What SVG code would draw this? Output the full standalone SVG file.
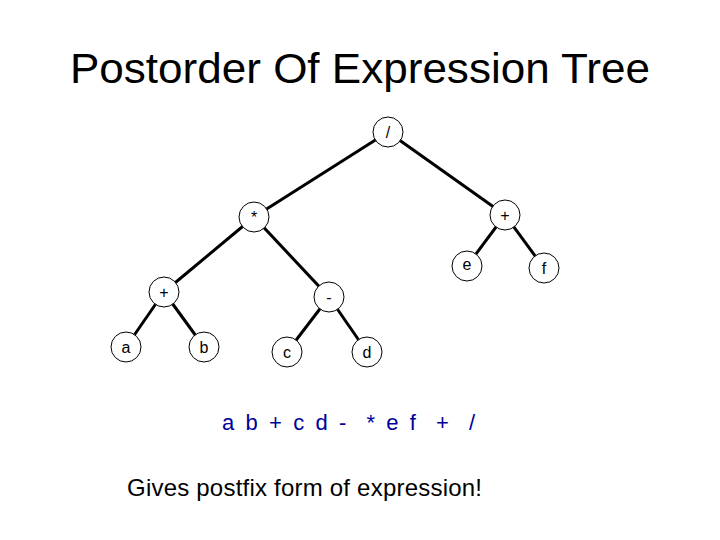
<svg xmlns="http://www.w3.org/2000/svg" width="720" height="540" viewBox="0 0 720 540">
<style>
.n circle{fill:#fff;stroke:#000;stroke-width:1}
.n text{font-family:"Liberation Sans",Arial,sans-serif;font-size:16px;text-anchor:middle;fill:#000}
#edges line{stroke:#000;stroke-width:3}
</style>
<rect width="720" height="540" fill="#fff"/>
<text x="70" y="83" font-family="Liberation Sans,Arial,sans-serif" font-size="43" textLength="580" lengthAdjust="spacingAndGlyphs">Postorder Of Expression Tree</text>
<g id="edges">
<line x1="388" y1="132" x2="254" y2="217"/>
<line x1="388" y1="132" x2="505" y2="215"/>
<line x1="254" y1="217" x2="164" y2="292"/>
<line x1="254" y1="217" x2="329" y2="297"/>
<line x1="505" y1="215" x2="467" y2="266"/>
<line x1="505" y1="215" x2="544" y2="268"/>
<line x1="164" y1="292" x2="126" y2="347"/>
<line x1="164" y1="292" x2="204" y2="347"/>
<line x1="329" y1="297" x2="287" y2="352"/>
<line x1="329" y1="297" x2="367" y2="352"/>
</g>
<g id="n-div" class="n"><circle cx="388" cy="132" r="15"/><text x="388" y="138">/</text></g>
<g id="n-mul" class="n"><circle cx="254" cy="217" r="15"/><text x="254" y="223">*</text></g>
<g id="n-plus2" class="n"><circle cx="505" cy="215" r="15"/><text x="505" y="221">+</text></g>
<g id="n-e" class="n"><circle cx="467" cy="266" r="15"/><text x="467" y="270">e</text></g>
<g id="n-f" class="n"><circle cx="544" cy="268" r="15"/><text x="544" y="274">f</text></g>
<g id="n-plus1" class="n"><circle cx="164" cy="292" r="15"/><text x="164" y="298">+</text></g>
<g id="n-minus" class="n"><circle cx="329" cy="297" r="15"/><text x="329" y="303">-</text></g>
<g id="n-a" class="n"><circle cx="126" cy="347" r="15"/><text x="126" y="353">a</text></g>
<g id="n-b" class="n"><circle cx="204" cy="347" r="15"/><text x="204" y="353">b</text></g>
<g id="n-c" class="n"><circle cx="287" cy="352" r="15"/><text x="287" y="358">c</text></g>
<g id="n-d" class="n"><circle cx="367" cy="352" r="15"/><text x="367" y="358">d</text></g>
<text x="222" y="430" font-family="Liberation Sans,Arial,sans-serif" font-size="22" fill="#000099" xml:space="preserve" textLength="253" lengthAdjust="spacing">a b + c d -  * e f  +  /</text>
<text x="127" y="496" font-family="Liberation Sans,Arial,sans-serif" font-size="24" textLength="355">Gives postfix form of expression!</text>
</svg>
